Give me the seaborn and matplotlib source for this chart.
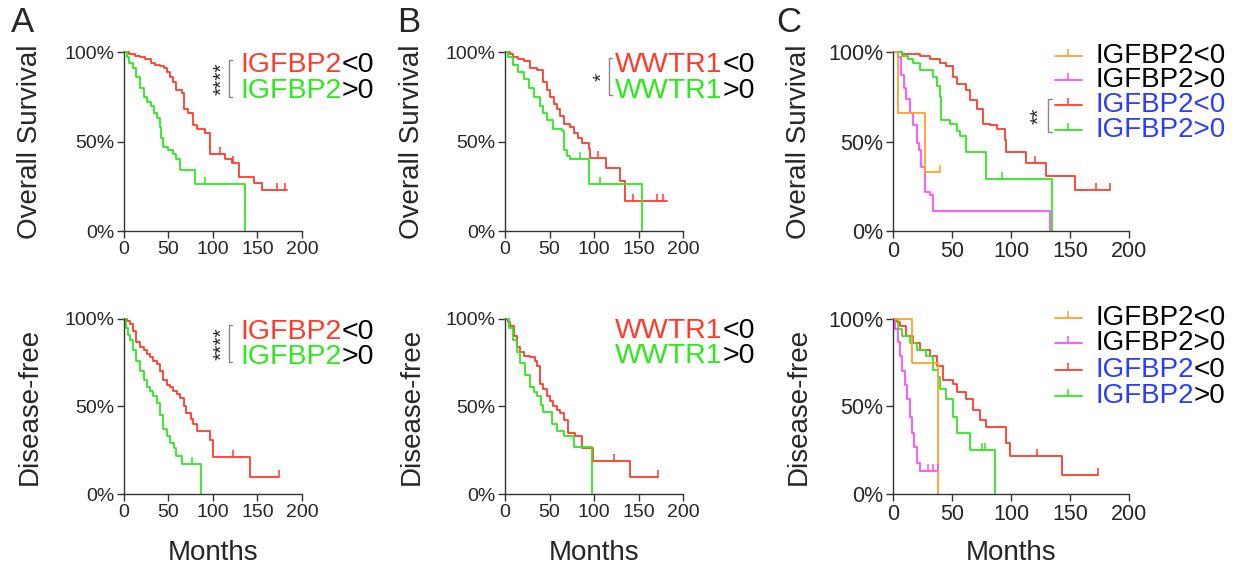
import numpy as np
import pandas as pd
import matplotlib
matplotlib.use("Agg")
import matplotlib.pyplot as plt
import seaborn as sns

# Kaplan-Meier step curves (months, % surviving after that time)
a_os_lo_t = [0, 6, 12, 18, 24, 30, 35, 40, 45, 48, 52, 55, 59, 65, 68, 72, 78, 82, 91, 97, 114, 121, 129, 146, 155, 183]
a_os_lo_s = [100, 99, 98, 97, 96, 94, 93, 92, 91, 89, 86, 83, 79, 77, 68, 66, 59, 57, 55, 43, 40, 38, 30, 27, 23, 23]
a_os_hi_t = [0, 3, 6, 10, 14, 18, 22, 26, 30, 34, 37, 40, 42, 44, 50, 55, 58, 63, 80, 136]
a_os_hi_s = [100, 97, 94, 91, 86, 80, 75, 72, 70, 66, 63, 58, 52, 47, 45, 43, 40, 34, 26, 0]
a_df_lo_t = [0, 3, 7, 10, 14, 18, 22, 26, 29, 33, 37, 40, 44, 48, 52, 55, 60, 63, 67, 70, 75, 78, 82, 97, 100, 142, 174]
a_df_lo_s = [100, 99, 97, 93, 87, 84, 82, 80, 78, 76, 74, 70, 65, 62, 61, 59, 57, 55, 50, 46, 43, 40, 36, 31, 21, 10, 10]
a_df_hi_t = [0, 2, 5, 7, 10, 14, 18, 22, 26, 29, 33, 37, 40, 44, 48, 52, 56, 59, 65, 87]
a_df_hi_s = [100, 95, 91, 88, 82, 76, 70, 65, 61, 59, 56, 52, 45, 37, 33, 29, 26, 22, 17, 0]

b_os_lo_t = [0, 5, 9, 15, 21, 28, 36, 43, 47, 51, 55, 58, 62, 66, 73, 77, 82, 86, 94, 96, 113, 129, 135, 182]
b_os_lo_s = [100, 99, 97, 96, 95, 91, 90, 83, 79, 75, 71, 68, 64, 60, 58, 55, 52, 49, 46, 41, 35, 28, 17, 17]
b_os_hi_t = [0, 3, 9, 15, 21, 27, 32, 39, 43, 47, 54, 64, 66, 70, 73, 94, 154]
b_os_hi_s = [100, 97, 93, 89, 85, 80, 75, 70, 66, 62, 57, 56, 45, 42, 40, 26, 0]
b_df_lo_t = [0, 3, 6, 10, 13, 17, 21, 28, 34, 36, 39, 43, 47, 51, 54, 58, 62, 66, 71, 79, 86, 99, 141, 172]
b_df_lo_s = [100, 98, 96, 90, 84, 81, 79, 78, 76, 73, 63, 60, 56, 53, 50, 48, 46, 42, 35, 33, 26, 19, 10, 10]
b_df_hi_t = [0, 4, 9, 13, 17, 22, 28, 32, 36, 40, 43, 53, 58, 66, 77, 98]
b_df_hi_s = [100, 95, 88, 81, 75, 68, 61, 58, 56, 51, 47, 40, 36, 33, 27, 0]

c_os_or_t = [0, 4, 27, 40]
c_os_or_s = [100, 66, 33, 33]
c_os_mg_t = [0, 4, 7, 9, 11, 14, 17, 20, 22, 24, 27, 31, 34, 133]
c_os_mg_s = [100, 97, 87, 80, 74, 66, 59, 49, 45, 36, 22, 20, 11, 0]
c_os_lo_t = [0, 8, 15, 23, 31, 40, 45, 51, 54, 62, 65, 71, 76, 82, 88, 95, 96, 113, 130, 154, 184]
c_os_lo_s = [100, 99, 99, 98, 96, 94, 92, 86, 82, 79, 73, 68, 60, 59, 57, 51, 44, 38, 31, 23, 23]
c_os_hi_t = [0, 8, 13, 17, 23, 34, 37, 40, 41, 48, 54, 57, 62, 79, 135]
c_os_hi_s = [100, 98, 96, 94, 90, 86, 81, 75, 62, 60, 56, 53, 44, 29, 0]
c_df_or_t = [0, 16, 38]
c_df_or_s = [100, 75, 0]
c_df_mg_t = [0, 2, 4, 6, 8, 10, 12, 14, 16, 18, 20, 23, 38]
c_df_mg_s = [100, 94, 87, 79, 70, 62, 54, 44, 35, 27, 18, 13, 13]
c_df_lo_t = [0, 3, 6, 11, 17, 23, 31, 37, 42, 51, 54, 62, 68, 74, 79, 96, 99, 143, 174]
c_df_lo_s = [100, 98, 96, 90, 86, 82, 79, 73, 65, 63, 58, 54, 48, 42, 38, 29, 22, 11, 11]
c_df_hi_t = [0, 4, 8, 14, 20, 28, 34, 38, 40, 45, 51, 54, 65, 86]
c_df_hi_s = [100, 94, 90, 86, 82, 79, 71, 67, 60, 54, 44, 35, 25, 0]

# censored times (tick marks on the curves)
censor = {
    "a_os_lo": [108, 123, 172, 181], "a_os_hi": [91],
    "a_df_lo": [123, 174], "a_df_hi": [76],
    "b_os_lo": [105, 144, 171, 178], "b_os_hi": [84, 107],
    "b_df_lo": [122, 172], "b_df_hi": [],
    "c_os_or": [40], "c_os_mg": [], "c_os_lo": [120, 172, 184], "c_os_hi": [92],
    "c_df_or": [], "c_df_mg": [30, 34, 38], "c_df_lo": [122, 174], "c_df_hi": [75, 78],
}

RED = "#ff3b2b"
GREEN = "#2ee81e"
ORANGE = "#ffa02a"
MAGENTA = "#ff4cff"
BLUE = "#2b3cff"

sns.set_style("ticks")
plt.rcParams["font.family"] = ["Liberation Sans", "DejaVu Sans"]

fig = plt.figure(figsize=(12.4, 5.69), dpi=100)


def km_frame(curves):
    parts = []
    for name, t, s in curves:
        parts.append(pd.DataFrame({"months": t, "surv": s, "group": name}))
    return pd.concat(parts, ignore_index=True)


def draw_km(ax, curves, palette):
    df = km_frame(curves)
    sns.lineplot(data=df, x="months", y="surv", hue="group", palette=palette,
                 estimator=None, sort=False, drawstyle="steps-post",
                 linewidth=1.3, legend=False, ax=ax, clip_on=False)
    for k, t, s in curves:
        ct = censor[k]
        if not ct:
            continue
        idx = np.searchsorted(t, ct, side="right") - 1
        cy = np.array(s)[idx]
        ax.plot(ct, cy, linestyle="none", marker=2, markersize=5,
                markeredgewidth=1.1, color=palette[k], clip_on=False)


def style_axes(ax, ylabel, fs_tick, ylab_x, xlabel=None):
    ax.set_xlim(0, 200)
    ax.set_ylim(0, 100)
    ax.set_xticks([0, 50, 100, 150, 200])
    ax.set_yticks([0, 50, 100])
    ax.set_yticklabels(["0%", "50%", "100%"])
    ax.tick_params(direction="out", length=5, width=1, labelsize=fs_tick,
                   color="#333333", pad=2)
    for sp in ["top", "right"]:
        ax.spines[sp].set_visible(False)
    for sp in ["left", "bottom"]:
        ax.spines[sp].set_linewidth(1)
        ax.spines[sp].set_color("#333333")
    ax.set_ylabel(ylabel, fontsize=20)
    ax.yaxis.set_label_coords(ylab_x, 0.5)
    if xlabel:
        ax.set_xlabel(xlabel, fontsize=20, va="center")
        ax.xaxis.set_label_coords(0.5, -0.335)
    else:
        ax.set_xlabel("")


def colored_text(ax, x, y, parts, fs=20.5):
    txt = ax.text(x, y, parts[0][0], color=parts[0][1], fontsize=fs,
                  transform=ax.transAxes, va="center", ha="left")
    for word, col in parts[1:]:
        txt = ax.annotate(word, xycoords=txt, xy=(1, 0), va="bottom",
                          ha="left", color=col, fontsize=fs)


def bracket(ax, x, y0, y1, stars, sx, fs=15):
    ax.plot([x + 0.018, x, x, x + 0.018], [y1, y1, y0, y0], color="#888888",
            lw=1, transform=ax.transAxes, clip_on=False)
    ax.text(sx, (y0 + y1) / 2, stars, rotation=90, fontsize=fs, ha="center",
            va="center", transform=ax.transAxes)


# panel A
ax = fig.add_axes([0.1, 0.594, 0.1435, 0.3146])
pal = {"a_os_lo": RED, "a_os_hi": GREEN}
draw_km(ax, [("a_os_lo", a_os_lo_t, a_os_lo_s), ("a_os_hi", a_os_hi_t, a_os_hi_s)], pal)
style_axes(ax, "Overall Survival", 14, -0.455)
colored_text(ax, 0.652, 0.927, [("IGFBP2", RED), ("<0", "black")])
colored_text(ax, 0.652, 0.782, [("IGFBP2", GREEN), (">0", "black")])
bracket(ax, 0.59, 0.749, 0.955, "****", 0.55)

ax = fig.add_axes([0.1, 0.1318, 0.1435, 0.3076])
pal = {"a_df_lo": RED, "a_df_hi": GREEN}
draw_km(ax, [("a_df_lo", a_df_lo_t, a_df_lo_s), ("a_df_hi", a_df_hi_t, a_df_hi_s)], pal)
style_axes(ax, "Disease-free", 14, -0.455, "Months")
colored_text(ax, 0.652, 0.923, [("IGFBP2", RED), ("<0", "black")])
colored_text(ax, 0.652, 0.78, [("IGFBP2", GREEN), (">0", "black")])
bracket(ax, 0.59, 0.754, 0.966, "****", 0.55)

# panel B
ax = fig.add_axes([0.4073, 0.594, 0.1435, 0.3146])
pal = {"b_os_lo": RED, "b_os_hi": GREEN}
draw_km(ax, [("b_os_lo", b_os_lo_t, b_os_lo_s), ("b_os_hi", b_os_hi_t, b_os_hi_s)], pal)
style_axes(ax, "Overall Survival", 14, -0.449)
colored_text(ax, 0.618, 0.927, [("WWTR1", RED), ("<0", "black")])
colored_text(ax, 0.618, 0.782, [("WWTR1", GREEN), (">0", "black")])
bracket(ax, 0.584, 0.76, 0.966, "*", 0.545)

ax = fig.add_axes([0.4073, 0.1318, 0.1435, 0.3076])
pal = {"b_df_lo": RED, "b_df_hi": GREEN}
draw_km(ax, [("b_df_lo", b_df_lo_t, b_df_lo_s), ("b_df_hi", b_df_hi_t, b_df_hi_s)], pal)
style_axes(ax, "Disease-free", 14, -0.449, "Months")
colored_text(ax, 0.618, 0.931, [("WWTR1", RED), ("<0", "black")])
colored_text(ax, 0.618, 0.789, [("WWTR1", GREEN), (">0", "black")])

# panel C
legend_labels = ["IGFBP2<0", "IGFBP2>0", "IGFBP2<0", "IGFBP2>0"]
legend_colors = [ORANGE, MAGENTA, RED, GREEN]


def c_legend(ax, rows_y, split_blue):
    for i, (lab, col) in enumerate(zip(legend_labels, legend_colors)):
        y = rows_y[i]
        ax.plot([0.686, 0.8], [y, y], color=col, lw=1.3,
                transform=ax.transAxes, clip_on=False)
        ax.plot([0.743], [y], marker=2, markersize=5, markeredgewidth=1.1,
                color=col, transform=ax.transAxes, clip_on=False)
        if i < 2:
            colored_text(ax, 0.856, y, [(lab, "black")], fs=20)
        elif split_blue:
            colored_text(ax, 0.856, y, [(lab[:6], BLUE), (lab[6:], "black")], fs=20)
        else:
            colored_text(ax, 0.856, y, [(lab, BLUE)], fs=20)


ax = fig.add_axes([0.7202, 0.594, 0.1903, 0.3146])
pal = {"c_os_or": ORANGE, "c_os_mg": MAGENTA, "c_os_lo": RED, "c_os_hi": GREEN}
draw_km(ax, [("c_os_lo", c_os_lo_t, c_os_lo_s), ("c_os_hi", c_os_hi_t, c_os_hi_s),
             ("c_os_mg", c_os_mg_t, c_os_mg_s), ("c_os_or", c_os_or_t, c_os_or_s)], pal)
style_axes(ax, "Overall Survival", 15.5, -0.343)
c_legend(ax, [0.978, 0.843, 0.702, 0.567], False)
bracket(ax, 0.657, 0.551, 0.736, "**", 0.617)

ax = fig.add_axes([0.7202, 0.1318, 0.1903, 0.3076])
pal = {"c_df_or": ORANGE, "c_df_mg": MAGENTA, "c_df_lo": RED, "c_df_hi": GREEN}
draw_km(ax, [("c_df_lo", c_df_lo_t, c_df_lo_s), ("c_df_hi", c_df_hi_t, c_df_hi_s),
             ("c_df_mg", c_df_mg_t, c_df_mg_s), ("c_df_or", c_df_or_t, c_df_or_s)], pal)
style_axes(ax, "Disease-free", 15.5, -0.343, "Months")
c_legend(ax, [1.006, 0.863, 0.709, 0.56], True)

for letter, x in [("A", 0.009), ("B", 0.32), ("C", 0.626)]:
    fig.text(x, 0.99, letter, fontsize=25, va="top", ha="left")

fig.savefig("out.png", dpi=100)
